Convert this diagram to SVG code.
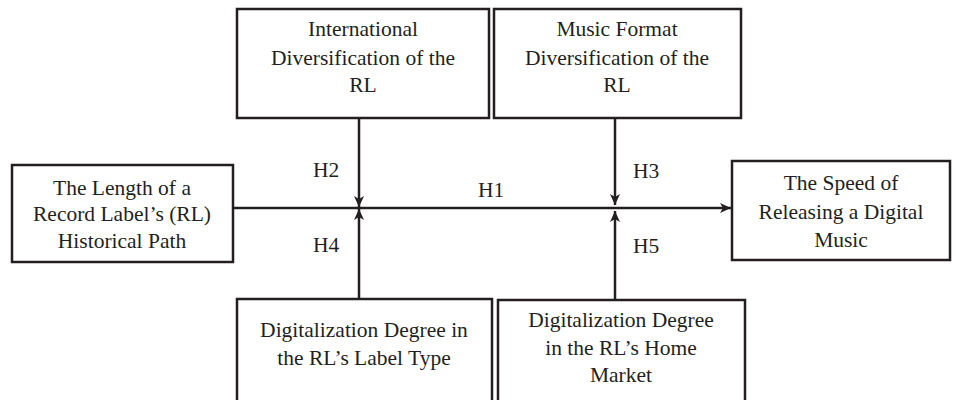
<svg xmlns="http://www.w3.org/2000/svg" width="960" height="400" viewBox="0 0 960 400">
  <defs>
    <style>
      .box { fill: #ffffff; stroke: #231f20; stroke-width: 2.5; }
      .lbl { font-family: 'Liberation Serif', 'DejaVu Serif', serif; font-size: 21.5px; fill: #231f20; text-anchor: middle; }
      .hyp { font-family: 'Liberation Serif', 'DejaVu Serif', serif; font-size: 21.5px; fill: #231f20; }
      .link { fill: none; stroke: #231f20; stroke-width: 2.5; }
    </style>
    <marker id="arrow" markerUnits="userSpaceOnUse" markerWidth="12" markerHeight="12" refX="11" refY="5" orient="auto">
      <path d="M0,0 L11,5 L0,10 L3,5 Z" fill="#231f20"/>
    </marker>
  </defs>
  <rect width="960" height="400" fill="#ffffff"/>

  <!-- connectors -->
  <g id="connectors">
    <line class="link" x1="233" y1="208" x2="731" y2="208" marker-end="url(#arrow)"/>
    <line class="link" x1="359" y1="118" x2="359" y2="207" marker-end="url(#arrow)"/>
    <line class="link" x1="359" y1="299" x2="359" y2="209" marker-end="url(#arrow)"/>
    <line class="link" x1="615" y1="118" x2="615" y2="205" marker-end="url(#arrow)"/>
    <line class="link" x1="615" y1="300" x2="615" y2="211" marker-end="url(#arrow)"/>
    <text class="hyp" x="478" y="197">H1</text>
    <text class="hyp" x="313" y="177">H2</text>
    <text class="hyp" x="633" y="178">H3</text>
    <text class="hyp" x="313" y="252">H4</text>
    <text class="hyp" x="633" y="253">H5</text>
  </g>

  <g id="intl-diversification">
    <rect class="box" x="237" y="9" width="252" height="109"/>
    <text class="lbl" x="363" y="36">International</text>
    <text class="lbl" x="363" y="65">Diversification of the</text>
    <text class="lbl" x="363" y="92">RL</text>
  </g>

  <g id="format-diversification">
    <rect class="box" x="494" y="9" width="247" height="109"/>
    <text class="lbl" x="617" y="36">Music Format</text>
    <text class="lbl" x="617" y="65">Diversification of the</text>
    <text class="lbl" x="617" y="92">RL</text>
  </g>

  <g id="path-length">
    <rect class="box" x="12" y="165" width="221" height="97"/>
    <text class="lbl" x="122" y="195">The Length of a</text>
    <text class="lbl" x="122" y="221">Record Label’s (RL)</text>
    <text class="lbl" x="122" y="248">Historical Path</text>
  </g>

  <g id="release-speed">
    <rect class="box" x="732" y="161" width="218" height="99"/>
    <text class="lbl" x="841" y="190">The Speed of</text>
    <text class="lbl" x="841" y="219">Releasing a Digital</text>
    <text class="lbl" x="841" y="247">Music</text>
  </g>

  <g id="label-type-digitalization">
    <rect class="box" x="237" y="299" width="255" height="110"/>
    <text class="lbl" x="364" y="337">Digitalization Degree in</text>
    <text class="lbl" x="364" y="365">the RL’s Label Type</text>
  </g>

  <g id="home-market-digitalization">
    <rect class="box" x="498" y="300" width="247" height="110"/>
    <text class="lbl" x="621" y="327">Digitalization Degree</text>
    <text class="lbl" x="621" y="355">in the RL’s Home</text>
    <text class="lbl" x="621" y="382">Market</text>
  </g>
</svg>
